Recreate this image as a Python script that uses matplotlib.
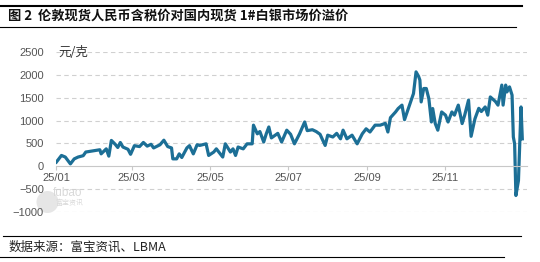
import numpy as np
import pandas as pd
import matplotlib
matplotlib.use("Agg")
import matplotlib.pyplot as plt
import matplotlib.dates as mdates
from matplotlib.lines import Line2D
from matplotlib.patches import Ellipse

plt.rcParams['font.family'] = ['Liberation Sans', 'Noto Sans CJK SC', 'DejaVu Sans']

title = "图 2  伦敦现货人民币含税价对国内现货 1#白银市场价溢价"
source = "数据来源：富宝资讯、LBMA"
unit = "元/克"

dates = ["01-01", "01-05", "01-08", "01-12", "01-15", "01-18", "01-22", "01-24",
         "02-04", "02-05", "02-09", "02-11", "02-13", "02-16", "02-18", "02-20",
         "02-22", "02-26", "02-28", "03-03", "03-07", "03-10", "03-13", "03-16",
         "03-18", "03-23", "03-26", "03-29", "04-01", "04-02", "04-05", "04-07",
         "04-09", "04-13", "04-15", "04-18", "04-21", "04-23", "04-28", "04-30",
         "05-04", "05-06", "05-09", "05-11", "05-13", "05-17", "05-19", "05-21",
         "05-23", "05-27", "05-30", "06-03", "06-04", "06-07", "06-09", "06-12",
         "06-14", "06-16", "06-18", "06-21", "06-23", "06-26", "06-30", "07-03",
         "07-06", "07-10", "07-14", "07-16", "07-20", "07-23", "07-26", "07-30",
         "08-01", "08-05", "08-08", "08-11", "08-13", "08-16", "08-20", "08-24",
         "08-28", "08-31", "09-03", "09-07", "09-11", "09-15", "09-17", "09-19",
         "09-23", "09-25", "09-28", "09-30", "10-03", "10-07", "10-09", "10-11",
         "10-12", "10-13", "10-15", "10-17", "10-19", "10-21", "10-22", "10-24",
         "10-26", "10-29", "11-01", "11-03", "11-06", "11-08", "11-11", "11-14",
         "11-16", "11-19", "11-21", "11-24", "11-27", "11-29", "12-02", "12-04",
         "12-06", "12-10", "12-12", "12-15", "12-16", "12-18", "12-19", "12-21",
         "12-23", "12-24", "12-25", "12-26", "12-28", "12-30", "12-31"]

premium = [88, 235, 200, 50, 160, 200, 230, 310,
           360, 270, 380, 220, 565, 480, 410, 520,
           420, 370, 260, 450, 430, 520, 440, 480,
           400, 470, 570, 430, 400, 160, 160, 270,
           190, 400, 450, 270, 470, 455, 490, 235,
           310, 380, 270, 200, 490, 310, 380, 235,
           420, 380, 490, 490, 900, 710, 760, 530,
           710, 860, 620, 680, 720, 530, 790, 700,
           490, 710, 970, 780, 800, 760, 700, 455,
           680, 640, 720, 600, 790, 600, 680, 490,
           710, 820, 750, 900, 900, 940, 750, 1065,
           1190, 1265, 1340, 1020, 1265, 1595, 2070, 1970,
           1890, 1410, 1705, 1705, 1480, 970, 1265, 935,
           790, 1190, 1120, 970, 1190, 1120, 1340, 935,
           1120, 1450, 655, 1040, 1270, 1200, 1300, 1120,
           1520, 1420, 1340, 1780, 1340, 1780, 1630, 1740,
           1560, 640, 490, -645, -315, 1300, 600]

x = pd.to_datetime(["2025-" + d for d in dates])

fig = plt.figure(figsize=(5.4, 2.62), dpi=100)

# watermark (behind the axes)
fig.add_artist(Ellipse((47.5 / 540, 1 - 202 / 262), 22 / 540, 22 / 262,
                       transform=fig.transFigure, facecolor="#e6e6e6",
                       edgecolor="none", zorder=-2))
fig.text(53 / 540, 1 - 193 / 262, "fubao", fontsize=8.5, color="#d9d9d9",
         ha="left", va="center", zorder=-2)
fig.text(55 / 540, 1 - 203 / 262, "富宝资讯", fontsize=5, color="#d9d9d9",
         ha="left", va="center", family=['Noto Sans CJK SC'], zorder=-2)

ax = fig.add_axes([0.1043, 0.192, 0.8717, 0.6084])
ax.patch.set_alpha(0)

ax.plot(x, premium, color="#1c6f96", linewidth=2.3, solid_joinstyle="round")

ax.set_ylim(-1000, 2500)
ax.set_yticks(np.arange(-1000, 2501, 500))
ax.set_xlim(pd.Timestamp("2025-01-01"), pd.Timestamp("2025-01-01") + pd.Timedelta(days=367.7))
ax.set_xticks(pd.to_datetime(["2025-01-01", "2025-03-01", "2025-05-01",
                              "2025-07-01", "2025-09-01", "2025-11-01"]))
ax.xaxis.set_major_formatter(mdates.DateFormatter("%y/%m"))

for v in np.arange(-1000, 2501, 500):
    if v != 0:
        ax.axhline(v, color="#d0d0d0", linewidth=0.8, linestyle=(0, (4, 3)), zorder=0)

for s in ["top", "right", "left"]:
    ax.spines[s].set_visible(False)
ax.spines["bottom"].set_position(("data", 0))
ax.spines["bottom"].set_color("#c8c8c8")
ax.spines["bottom"].set_linewidth(0.8)
ax.tick_params(axis="x", colors="#c8c8c8", labelcolor="#555555", labelsize=8, length=3, pad=2)
ax.tick_params(axis="y", length=0, labelcolor="#555555", labelsize=8, pad=9)

ax.text(0.005, 2500, unit, fontsize=9, color="#333333", va="center", ha="left",
        transform=ax.get_yaxis_transform(), family=['Noto Sans CJK SC', 'DejaVu Sans'])

# header / footer
fig.add_artist(Line2D([0, 0.967], [1 - 6 / 262, 1 - 6 / 262], color="black", linewidth=1.5))
fig.add_artist(Line2D([0, 0.955], [1 - 27 / 262, 1 - 27 / 262], color="black", linewidth=0.8))
fig.text(0.015, 1 - 16 / 262, title, fontsize=9.5, fontweight="bold", color="#111111",
         ha="left", va="center", family=['Noto Sans CJK SC', 'DejaVu Sans'])
fig.add_artist(Line2D([0.005, 0.965], [1 - 235.5 / 262, 1 - 235.5 / 262], color="black", linewidth=0.8))
fig.text(0.015, 1 - 247 / 262, source, fontsize=9, color="#222222",
         ha="left", va="center", family=['Noto Sans CJK SC', 'DejaVu Sans'])
fig.add_artist(Line2D([0, 0.933], [1 - 256.5 / 262, 1 - 256.5 / 262], color="black", linewidth=0.8))

fig.savefig("out.png", dpi=100, facecolor="white")
